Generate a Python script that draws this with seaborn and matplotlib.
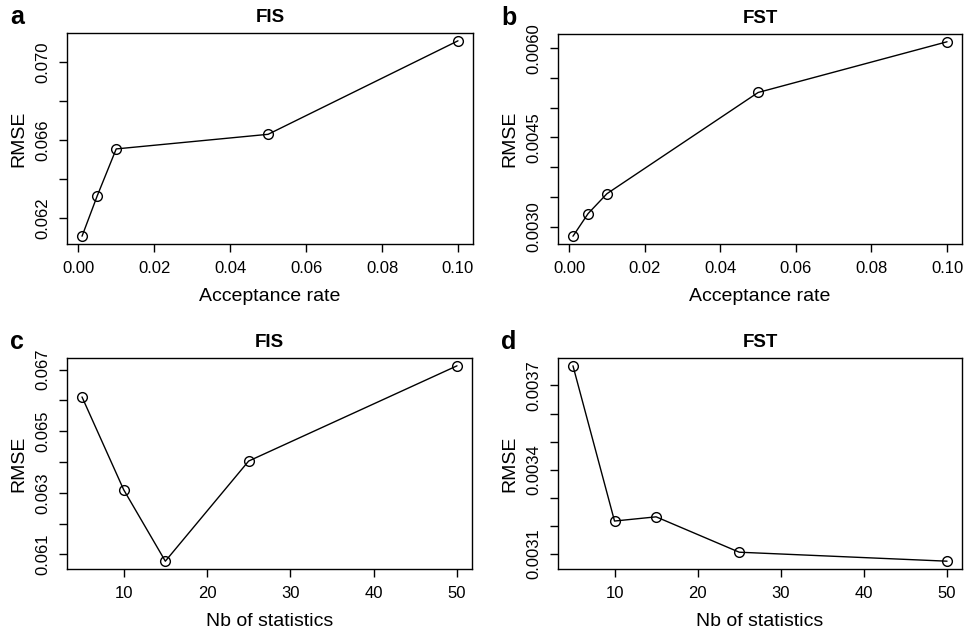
import matplotlib
matplotlib.use("Agg")
import matplotlib.pyplot as plt
import seaborn as sns
import pandas as pd
import numpy as np

# ---- data ----
acc_rate = [0.001, 0.005, 0.01, 0.05, 0.1]
fis_acc = [0.06107, 0.06314, 0.06555, 0.06630, 0.07110]
fst_acc = [0.002840, 0.003220, 0.003555, 0.005255, 0.006107]

nb_stats = [5, 10, 15, 25, 50]
fis_nb = [0.06611, 0.06310, 0.06078, 0.06403, 0.06712]
fst_nb = [0.003770, 0.003217, 0.003232, 0.003106, 0.003074]

xticks_acc = [0.00, 0.02, 0.04, 0.06, 0.08, 0.10]
xticks_nb = [10, 20, 30, 40, 50]

yticks_a = [0.062, 0.064, 0.066, 0.068, 0.070]
ylabels_a = ["0.062", "", "0.066", "", "0.070"]
yticks_b = [0.0030, 0.0035, 0.0040, 0.0045, 0.0050, 0.0055, 0.0060]
ylabels_b = ["0.0030", "", "", "0.0045", "", "", "0.0060"]
yticks_c = [0.061, 0.062, 0.063, 0.064, 0.065, 0.066, 0.067]
ylabels_c = ["0.061", "", "0.063", "", "0.065", "", "0.067"]
yticks_d = [0.0031, 0.0032, 0.0033, 0.0034, 0.0035, 0.0036, 0.0037]
ylabels_d = ["0.0031", "", "", "0.0034", "", "", "0.0037"]

titles = ["FIS", "FST", "FIS", "FST"]
letters = ["a", "b", "c", "d"]
xlabels = ["Acceptance rate", "Acceptance rate", "Nb of statistics", "Nb of statistics"]

sns.set_style("ticks")
plt.rcParams["font.family"] = ["Liberation Sans", "DejaVu Sans"]
plt.rcParams["text.color"] = "black"
plt.rcParams["axes.labelcolor"] = "black"
plt.rcParams["xtick.color"] = "black"
plt.rcParams["ytick.color"] = "black"

fig = plt.figure(figsize=(9.64, 6.31), dpi=100)

W, H = 964, 631
boxes = [
    (67, 33, 473, 244),
    (558, 34, 962, 244),
    (67, 358, 472, 569),
    (558, 358, 962, 569),
]

panels = [
    (acc_rate, fis_acc, xticks_acc, ["0.00", "0.02", "0.04", "0.06", "0.08", "0.10"], yticks_a, ylabels_a),
    (acc_rate, fst_acc, xticks_acc, ["0.00", "0.02", "0.04", "0.06", "0.08", "0.10"], yticks_b, ylabels_b),
    (nb_stats, fis_nb, xticks_nb, [str(v) for v in xticks_nb], yticks_c, ylabels_c),
    (nb_stats, fst_nb, xticks_nb, [str(v) for v in xticks_nb], yticks_d, ylabels_d),
]

for i, ((x0, y0, x1, y1), (xs, ys, xt, xtl, yt, ytl)) in enumerate(zip(boxes, panels)):
    ax = fig.add_axes([x0 / W, 1 - y1 / H, (x1 - x0) / W, (y1 - y0) / H])
    df = pd.DataFrame({"x": xs, "y": ys})
    sns.lineplot(data=df, x="x", y="y", ax=ax, color="black", linewidth=1.0,
                 marker="o", markersize=7, markerfacecolor="none",
                 markeredgecolor="black", markeredgewidth=1.0)
    ax.margins(x=0.04, y=0.04)
    ax.set_xticks(xt)
    ax.set_xticklabels(xtl)
    ax.set_yticks(yt)
    ax.set_yticklabels(ytl)
    ax.tick_params(axis="both", direction="out", length=6, width=1.0,
                   labelsize=12, pad=6, color="black", labelcolor="black")
    ax.tick_params(axis="y", labelrotation=90)
    plt.setp(ax.get_yticklabels(), va="center")
    for sp in ax.spines.values():
        sp.set_visible(True)
        sp.set_linewidth(1.0)
        sp.set_color("black")
    ax.set_xlabel(xlabels[i], fontsize=14, labelpad=9)
    ax.set_ylabel("RMSE", fontsize=14, labelpad=6)
    ax.set_title(titles[i], fontsize=13.5, fontweight="bold", pad=8)
    fig.text((x0 - 57) / W, 1 - (y0 - 9) / H, letters[i], fontsize=18,
             fontweight="bold", ha="left", va="baseline")

fig.savefig("out.png", dpi=100)
